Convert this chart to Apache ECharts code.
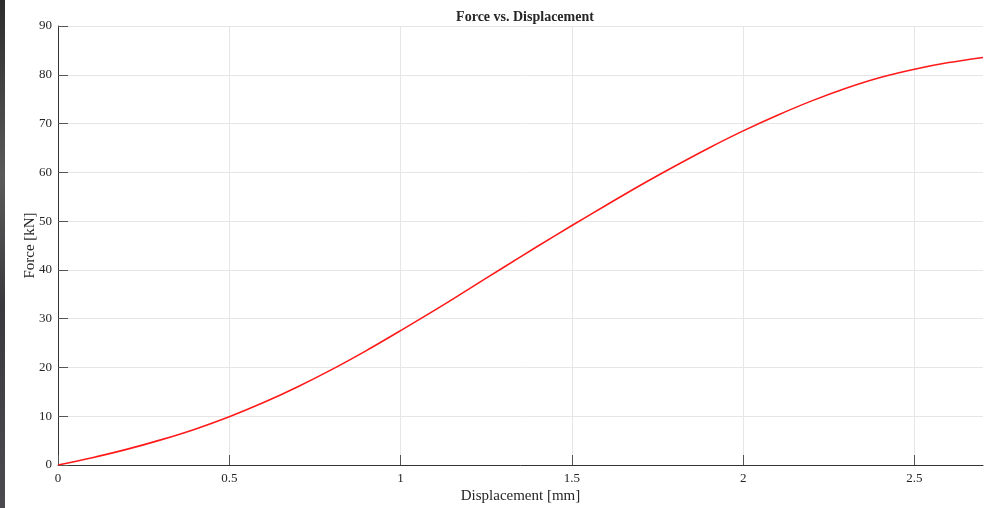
<!DOCTYPE html>
<html>
<head>
<meta charset="utf-8">
<script src="https://cdn.jsdelivr.net/npm/echarts@6/dist/echarts.min.js"></script>
<style>
  html, body { margin: 0; padding: 0; background: #fff; }
  #chart { width: 989px; height: 508px; }
</style>
</head>
<body>
<div id="chart"></div>
<script>
// Measured displacement [mm] and force [kN]
const displacement = [0, 0.1, 0.2, 0.3, 0.4, 0.5, 0.6, 0.7, 0.8, 0.9, 1.0,
  1.1, 1.2, 1.3, 1.4, 1.5, 1.6, 1.7, 1.8, 1.9, 2.0,
  2.1, 2.2, 2.3, 2.4, 2.5, 2.6, 2.7];
const force = [0, 1.5, 3.2, 5.15, 7.35, 9.9, 12.8, 16.05, 19.6, 23.45, 27.55,
  31.75, 36.1, 40.5, 44.85, 49.1, 53.25, 57.35, 61.25, 65.0, 68.5,
  71.7, 74.65, 77.25, 79.45, 81.15, 82.5, 83.55];

const xTicks = [0, 0.5, 1, 1.5, 2, 2.5];
const yTicks = [0, 10, 20, 30, 40, 50, 60, 70, 80, 90];

const serif = '"Liberation Serif", "DejaVu Serif", serif';
const textColor = '#262626';

const chart = echarts.init(document.getElementById('chart'), null, { renderer: 'canvas' });

chart.setOption({
  animation: false,
  backgroundColor: '#fff',
  title: {
    text: 'Force vs. Displacement',
    left: 520, top: 5, textAlign: 'center',
    textStyle: { fontFamily: serif, fontSize: 14, fontWeight: 'bold', color: textColor }
  },
  grid: { left: 58, right: 6, top: 26, bottom: 43, outerBoundsMode: 'none', containLabel: false },
  xAxis: {
    type: 'value',
    min: 0, max: 2.7,
    name: 'Displacement [mm]',
    nameLocation: 'middle', nameGap: 24,
    nameMoveOverlap: false,
    nameTextStyle: { fontFamily: serif, fontSize: 15, color: textColor },
    axisLine: { lineStyle: { color: '#333', width: 1 } },
    axisTick: { inside: true, length: 10, customValues: xTicks, lineStyle: { color: '#555' } },
    axisLabel: {
      fontFamily: serif, fontSize: 13, color: textColor, margin: 7,
      customValues: xTicks,
      formatter: v => String(v)
    },
    splitLine: { show: true, lineStyle: { color: '#e6e6e6', width: 1 } }
  },
  yAxis: {
    type: 'value',
    min: 0, max: 90, interval: 10,
    name: 'Force [kN]',
    nameLocation: 'middle', nameGap: 20,
    nameMoveOverlap: false,
    nameTextStyle: { fontFamily: serif, fontSize: 15, color: textColor },
    axisLine: { show: true, lineStyle: { color: '#333', width: 1 } },
    axisTick: { show: true, inside: true, length: 10, lineStyle: { color: '#555' } },
    axisLabel: {
      fontFamily: serif, fontSize: 13, color: textColor, margin: 6,
      formatter: v => yTicks.includes(v) ? String(v) : ''
    },
    splitLine: { show: true, lineStyle: { color: '#e6e6e6', width: 1 } }
  },
  graphic: [{
    type: 'rect', left: 0, top: 0, z: 100,
    shape: { width: 5, height: 508 },
    style: {
      fill: new echarts.graphic.LinearGradient(0, 0, 0, 1, [
        { offset: 0, color: '#2c2c2c' },
        { offset: 0.35, color: '#5a5a5a' },
        { offset: 0.6, color: '#3a3a3e' },
        { offset: 1, color: '#4a4a50' }
      ])
    }
  }],
  series: [{
    type: 'line',
    data: displacement.map((d, i) => [d, force[i]]),
    smooth: 0.3,
    showSymbol: false,
    lineStyle: { color: '#ff1a1a', width: 1.6 },
    clip: true
  }]
});
</script>
</body>
</html>
